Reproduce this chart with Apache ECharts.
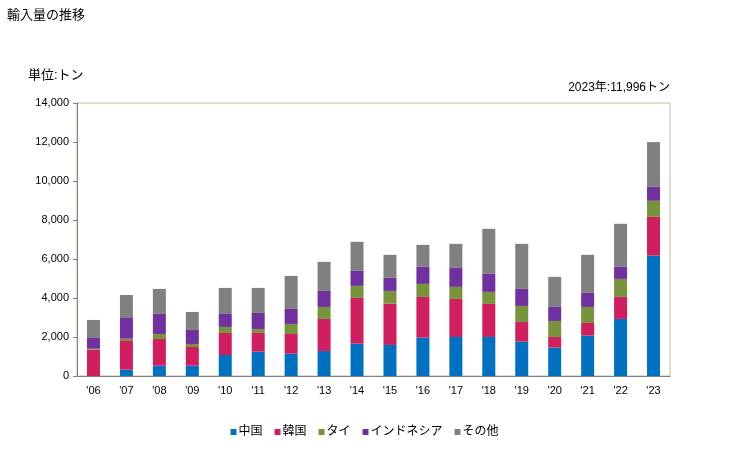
<!DOCTYPE html>
<html><head><meta charset="utf-8">
<script src="https://cdn.jsdelivr.net/npm/echarts@6/dist/echarts.min.js"></script>
<style>html,body{margin:0;padding:0;background:#fff}#c{width:729px;height:450px}</style>
</head><body><div id="c"></div>
<script>
const categories = ["'06","'07","'08","'09","'10","'11","'12","'13","'14","'15","'16","'17","'18","'19","'20","'21","'22","'23"];
const seriesNames = ["中国","韓国","タイ","インドネシア","その他"];
const china     = [0,325,530,530,1078,1249,1147,1284,1660,1592,1968,2002,2002,1763,1455,2071,2927,6178];
const korea     = [1350,1470,1370,959,1130,959,1009,1643,2345,2122,2088,1951,1695,1010,547,650,1129,1986];
const thai      = [50,120,256,154,308,205,514,616,616,650,668,617,616,821,822,822,924,821];
const indonesia = [550,1060,1027,719,667,822,770,821,770,668,872,975,924,873,719,719,616,719];
const others    = [925,1180,1284,924,1335,1283,1694,1489,1489,1181,1130,1232,2311,2310,1540,1951,2209,2292];
const yTicks = [0,2000,4000,6000,8000,10000,12000,14000];
const colors = ['#0070c0','#d01e5f','#77933c','#7030a0','#808080'];
const font = "'Liberation Sans', 'Noto Sans CJK JP', sans-serif";
const chart = echarts.init(document.getElementById('c'));
const data = [china, korea, thai, indonesia, others];
chart.setOption({
  animation:false,
  textStyle:{fontFamily:font},
  title:[
    {text:'輸入量の推移',left:2,top:4,textStyle:{fontSize:13,fontWeight:'normal',color:'#000',fontFamily:font}},
    {text:'単位:トン',left:23,top:64,textStyle:{fontSize:13,fontWeight:'normal',color:'#000',fontFamily:font}},
    {text:'2023年:11,996トン',right:54,top:77,textStyle:{fontSize:12,fontWeight:'normal',color:'#000',fontFamily:font}}
  ],
  grid:{left:77,right:59,top:103,bottom:74,show:true,borderColor:'#c4bc96',borderWidth:1,backgroundColor:'transparent'},
  legend:{bottom:7,left:'center',itemWidth:6,itemHeight:6,itemGap:12,icon:'rect',
    textStyle:{fontSize:12,color:'#000',fontFamily:font,padding:[0,0,0,-3]},data:seriesNames},
  xAxis:{type:'category',data:categories,
    axisLine:{lineStyle:{color:'#808080',width:1}},axisTick:{show:false},
    axisLabel:{color:'#000',fontSize:11,margin:9,fontFamily:font}},
  yAxis:{type:'value',min:0,max:14000,interval:2000,
    axisLine:{show:true,lineStyle:{color:'#808080'}},
    axisTick:{show:true,inside:false,length:4,lineStyle:{color:'#808080'}},
    splitLine:{show:false},
    axisLabel:{color:'#000',fontSize:11,margin:8,fontFamily:font,
      formatter:v=>yTicks.includes(v)?v.toLocaleString('en-US'):''}},
  series:seriesNames.map((n,i)=>({name:n,type:'bar',stack:'total',barWidth:13,
    itemStyle:{color:colors[i]},data:data[i]}))
});
</script></body></html>
